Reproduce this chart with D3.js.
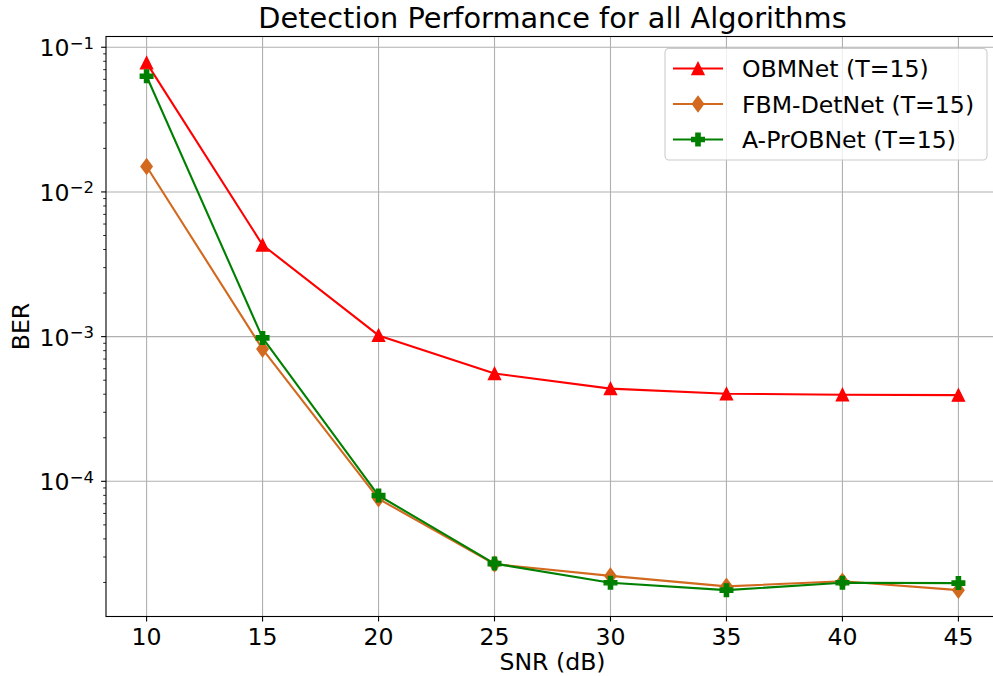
<!DOCTYPE html>
<html>
<head>
<meta charset="utf-8">
<script src="https://cdn.jsdelivr.net/npm/d3@7"></script>
<style>
  html, body { margin: 0; padding: 0; background: #ffffff; }
  svg { display: block; font-family: 'DejaVu Sans', sans-serif; }
</style>
</head>
<body>
<div id="chart"></div>
<script>
// SNR points on the x axis
const snr = [10, 15, 20, 25, 30, 35, 40, 45];
const xTicks = [10, 15, 20, 25, 30, 35, 40, 45];
const yTicks = [-4, -3, -2, -1]; // decades, labelled 10^k

// BER per algorithm
const obmnet = [0.078, 0.0043, 0.00102, 0.000556, 0.000437, 0.000403, 0.000397, 0.000394];
const fbmDetnet = [0.015, 0.00082, 0.0000757, 0.0000268, 0.0000222, 0.0000188, 0.0000204, 0.0000177];
const aProbnet = [0.063, 0.00098, 0.0000798, 0.0000270, 0.0000199, 0.0000177, 0.0000199, 0.0000198];

const seriesNames = ['OBMNet (T=15)', 'FBM-DetNet (T=15)', 'A-PrOBNet (T=15)'];
const seriesColors = ['#ff0000', '#d2691e', '#008000'];
const seriesMarkers = ['triangle', 'thinDiamond', 'plus'];

const chartTitle = 'Detection Performance for all Algorithms';
const xLabel = 'SNR (dB)';
const yLabel = 'BER';

const W = 993;
const H = 676;
const fontSize = 23.6;

const color = {
  text: '#000000',
  grid: '#b0b0b0',
  spine: '#000000',
  legendEdge: '#cccccc'
};

// marker shapes, centred on 0,0
const markerPath = (kind) => {
  if (kind === 'triangle') {
    const s = 12;
    return `M0,${-s / 2}L${s / 2},${s / 2}L${-s / 2},${s / 2}Z`;
  }
  if (kind === 'thinDiamond') {
    const hw = 5.6;
    const hh = 7.6;
    return `M0,${-hh}L${hw},0L0,${hh}L${-hw},0Z`;
  }
  // filled plus
  const a = 6.3;
  const t = 2.1;
  return `M${-t},${-a}H${t}V${-t}H${a}V${t}H${t}V${a}H${-t}V${t}H${-a}V${-t}H${-t}Z`;
};

const draw = () => {
  const margin = { top: 36.5, right: -6, bottom: 59.5, left: 106 };
  const width = W - margin.left - margin.right;
  const height = H - margin.top - margin.bottom;

  const svg = d3.select('#chart')
    .append('svg')
    .attr('width', W)
    .attr('height', H);

  const g = svg.append('g')
    .attr('transform', `translate(${margin.left}, ${margin.top})`);

  const series = [obmnet, fbmDetnet, aProbnet].map((values, i) => ({
    name: seriesNames[i],
    color: seriesColors[i],
    marker: seriesMarkers[i],
    points: values.map((v, j) => ({ x: snr[j], y: v }))
  }));

  // matplotlib style 5% margins (in log space for y)
  const xMin = d3.min(snr);
  const xMax = d3.max(snr);
  const xPad = (xMax - xMin) * 0.05;
  const x = d3.scaleLinear()
    .domain([xMin - xPad, xMax + xPad])
    .range([0, width]);

  const allValues = [].concat(obmnet, fbmDetnet, aProbnet);
  const lo = Math.log10(d3.min(allValues));
  const hi = Math.log10(d3.max(allValues));
  const yPad = (hi - lo) * 0.05;
  const y = d3.scaleLog()
    .domain([Math.pow(10, lo - yPad), Math.pow(10, hi + yPad)])
    .range([height, 0]);

  // Grid
  g.append('g')
    .selectAll('line')
    .data(xTicks)
    .enter()
    .append('line')
    .attr('x1', (d) => x(d))
    .attr('x2', (d) => x(d))
    .attr('y1', 0)
    .attr('y2', height)
    .attr('stroke', color.grid)
    .attr('stroke-width', 1.1);

  g.append('g')
    .selectAll('line')
    .data(yTicks)
    .enter()
    .append('line')
    .attr('x1', 0)
    .attr('x2', width)
    .attr('y1', (d) => y(Math.pow(10, d)))
    .attr('y2', (d) => y(Math.pow(10, d)))
    .attr('stroke', color.grid)
    .attr('stroke-width', 1.1);

  // Lines and markers
  const line = d3.line()
    .x((d) => x(d.x))
    .y((d) => y(d.y));

  series.forEach((s) => {
    const sg = g.append('g');
    sg.append('path')
      .datum(s.points)
      .attr('d', line)
      .attr('fill', 'none')
      .attr('stroke', s.color)
      .attr('stroke-width', 2.1)
      .attr('stroke-linejoin', 'round');

    sg.selectAll('path.marker')
      .data(s.points)
      .enter()
      .append('path')
      .attr('class', 'marker')
      .attr('d', markerPath(s.marker))
      .attr('transform', (d) => `translate(${x(d.x)}, ${y(d.y)})`)
      .attr('fill', s.color)
      .attr('stroke', s.color)
      .attr('stroke-width', 1.4)
      .attr('stroke-linejoin', 'miter');
  });

  // X axis
  const xAxis = g.append('g')
    .attr('transform', `translate(0, ${height})`);

  xAxis.selectAll('line')
    .data(xTicks)
    .enter()
    .append('line')
    .attr('x1', (d) => x(d))
    .attr('x2', (d) => x(d))
    .attr('y1', 0)
    .attr('y2', 4.9)
    .attr('stroke', color.spine)
    .attr('stroke-width', 1.1);

  xAxis.selectAll('text')
    .data(xTicks)
    .enter()
    .append('text')
    .attr('x', (d) => x(d))
    .attr('y', 28.5)
    .attr('text-anchor', 'middle')
    .attr('font-size', fontSize)
    .attr('fill', color.text)
    .text((d) => d);

  // Y axis: major and minor ticks
  const [d0, d1] = y.domain();
  const minor = [];
  for (let e = Math.floor(Math.log10(d0)); e <= Math.ceil(Math.log10(d1)); e++) {
    for (let m = 2; m <= 9; m++) {
      const v = m * Math.pow(10, e);
      if (v >= d0 && v <= d1) minor.push(v);
    }
  }

  const yAxis = g.append('g');

  yAxis.selectAll('line.minor')
    .data(minor)
    .enter()
    .append('line')
    .attr('class', 'minor')
    .attr('x1', -2.8)
    .attr('x2', 0)
    .attr('y1', (d) => y(d))
    .attr('y2', (d) => y(d))
    .attr('stroke', color.spine)
    .attr('stroke-width', 0.85);

  yAxis.selectAll('line.major')
    .data(yTicks)
    .enter()
    .append('line')
    .attr('class', 'major')
    .attr('x1', -4.9)
    .attr('x2', 0)
    .attr('y1', (d) => y(Math.pow(10, d)))
    .attr('y2', (d) => y(Math.pow(10, d)))
    .attr('stroke', color.spine)
    .attr('stroke-width', 1.1);

  const yLabels = yAxis.selectAll('text')
    .data(yTicks)
    .enter()
    .append('text')
    .attr('x', -12)
    .attr('y', (d) => y(Math.pow(10, d)) + 9)
    .attr('text-anchor', 'end')
    .attr('font-size', fontSize)
    .attr('fill', color.text);

  yLabels.append('tspan').text('10');
  yLabels.append('tspan')
    .attr('font-size', fontSize * 0.7)
    .attr('dy', -7.5)
    .text((d) => `\u2212${-d}`);

  // Spines
  g.append('rect')
    .attr('x', 0)
    .attr('y', 0)
    .attr('width', width)
    .attr('height', height)
    .attr('fill', 'none')
    .attr('stroke', color.spine)
    .attr('stroke-width', 1.1);

  // Titles
  svg.append('text')
    .attr('x', margin.left + width / 2)
    .attr('y', 28.3)
    .attr('text-anchor', 'middle')
    .attr('font-size', 28.8)
    .attr('fill', color.text)
    .text(chartTitle);

  svg.append('text')
    .attr('x', margin.left + width / 2)
    .attr('y', 670)
    .attr('text-anchor', 'middle')
    .attr('font-size', fontSize)
    .attr('fill', color.text)
    .text(xLabel);

  svg.append('text')
    .attr('transform', `translate(29, ${margin.top + height / 2}) rotate(-90)`)
    .attr('text-anchor', 'middle')
    .attr('font-size', fontSize)
    .attr('fill', color.text)
    .text(yLabel);

  // Legend, upper right
  const legend = svg.append('g')
    .attr('transform', `translate(${margin.left + width - 12}, ${margin.top + 12})`);

  const rowH = 35.5;
  const boxW = 322;
  const boxH = 111.5;

  legend.append('rect')
    .attr('x', -boxW)
    .attr('y', 0)
    .attr('width', boxW)
    .attr('height', boxH)
    .attr('rx', 4)
    .attr('fill', 'rgba(255,255,255,0.8)')
    .attr('stroke', color.legendEdge)
    .attr('stroke-width', 1.1);

  const rows = legend.selectAll('g.row')
    .data(series)
    .enter()
    .append('g')
    .attr('class', 'row')
    .attr('transform', (d, i) => `translate(${-boxW + 8}, ${20 + i * rowH})`);

  rows.append('line')
    .attr('x1', 0)
    .attr('x2', 50)
    .attr('stroke', (d) => d.color)
    .attr('stroke-width', 2.1);

  rows.append('path')
    .attr('d', (d) => markerPath(d.marker))
    .attr('transform', 'translate(25, 0)')
    .attr('fill', (d) => d.color)
    .attr('stroke', (d) => d.color)
    .attr('stroke-width', 1.4);

  rows.append('text')
    .attr('x', 69)
    .attr('y', 8.5)
    .attr('font-size', fontSize)
    .attr('fill', color.text)
    .text((d) => d.name);
};

draw();
</script>
</body>
</html>
